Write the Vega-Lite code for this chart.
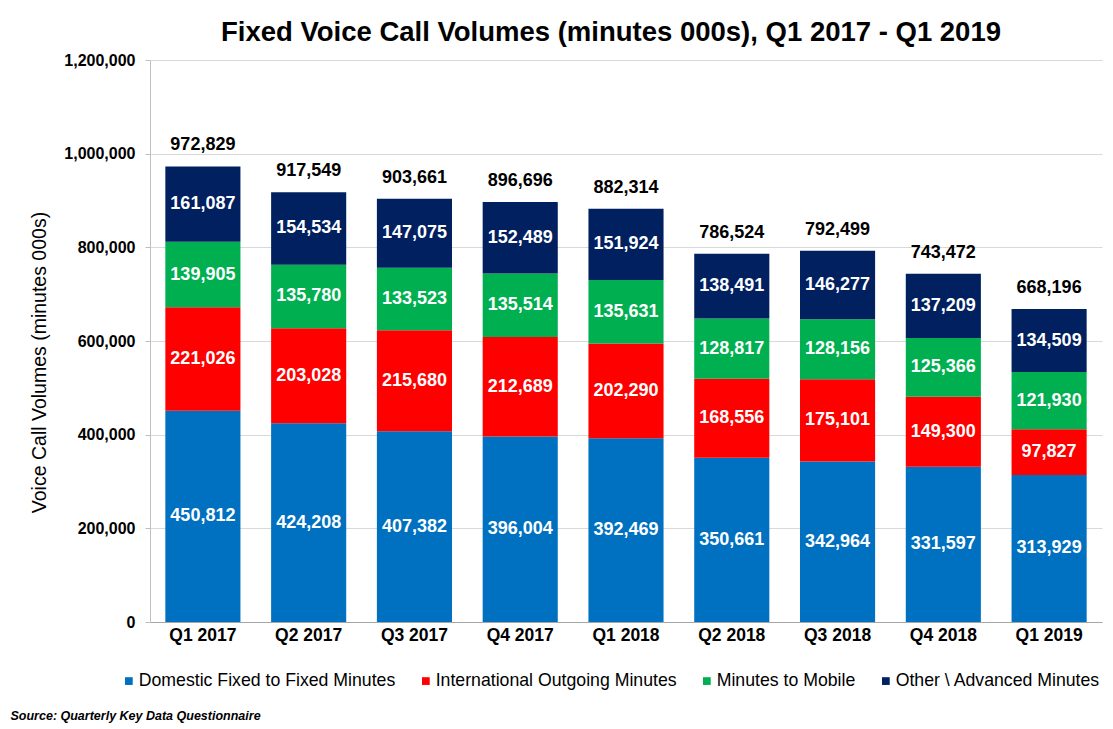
{
  "$schema": "https://vega.github.io/schema/vega-lite/v6.json",
  "autosize": "none",
  "width": 952,
  "height": 562,
  "padding": {"left": 150, "top": 60, "right": 11, "bottom": 107},
  "background": "white",
  "title": {
    "text": "Fixed Voice Call Volumes (minutes 000s), Q1 2017 - Q1 2019",
    "font": "Liberation Sans",
    "fontSize": 27.5,
    "fontWeight": "bold",
    "color": "#000000",
    "anchor": "middle",
    "dx": -15,
    "offset": 6
  },
  "datasets": {
    "segments": [
      {"quarter": "Q1 2017", "category": "Domestic Fixed to Fixed Minutes", "order": 1, "value": 450812},
      {"quarter": "Q1 2017", "category": "International Outgoing Minutes", "order": 2, "value": 221026},
      {"quarter": "Q1 2017", "category": "Minutes to Mobile", "order": 3, "value": 139905},
      {"quarter": "Q1 2017", "category": "Other \\ Advanced Minutes", "order": 4, "value": 161087},
      {"quarter": "Q2 2017", "category": "Domestic Fixed to Fixed Minutes", "order": 1, "value": 424208},
      {"quarter": "Q2 2017", "category": "International Outgoing Minutes", "order": 2, "value": 203028},
      {"quarter": "Q2 2017", "category": "Minutes to Mobile", "order": 3, "value": 135780},
      {"quarter": "Q2 2017", "category": "Other \\ Advanced Minutes", "order": 4, "value": 154534},
      {"quarter": "Q3 2017", "category": "Domestic Fixed to Fixed Minutes", "order": 1, "value": 407382},
      {"quarter": "Q3 2017", "category": "International Outgoing Minutes", "order": 2, "value": 215680},
      {"quarter": "Q3 2017", "category": "Minutes to Mobile", "order": 3, "value": 133523},
      {"quarter": "Q3 2017", "category": "Other \\ Advanced Minutes", "order": 4, "value": 147075},
      {"quarter": "Q4 2017", "category": "Domestic Fixed to Fixed Minutes", "order": 1, "value": 396004},
      {"quarter": "Q4 2017", "category": "International Outgoing Minutes", "order": 2, "value": 212689},
      {"quarter": "Q4 2017", "category": "Minutes to Mobile", "order": 3, "value": 135514},
      {"quarter": "Q4 2017", "category": "Other \\ Advanced Minutes", "order": 4, "value": 152489},
      {"quarter": "Q1 2018", "category": "Domestic Fixed to Fixed Minutes", "order": 1, "value": 392469},
      {"quarter": "Q1 2018", "category": "International Outgoing Minutes", "order": 2, "value": 202290},
      {"quarter": "Q1 2018", "category": "Minutes to Mobile", "order": 3, "value": 135631},
      {"quarter": "Q1 2018", "category": "Other \\ Advanced Minutes", "order": 4, "value": 151924},
      {"quarter": "Q2 2018", "category": "Domestic Fixed to Fixed Minutes", "order": 1, "value": 350661},
      {"quarter": "Q2 2018", "category": "International Outgoing Minutes", "order": 2, "value": 168556},
      {"quarter": "Q2 2018", "category": "Minutes to Mobile", "order": 3, "value": 128817},
      {"quarter": "Q2 2018", "category": "Other \\ Advanced Minutes", "order": 4, "value": 138491},
      {"quarter": "Q3 2018", "category": "Domestic Fixed to Fixed Minutes", "order": 1, "value": 342964},
      {"quarter": "Q3 2018", "category": "International Outgoing Minutes", "order": 2, "value": 175101},
      {"quarter": "Q3 2018", "category": "Minutes to Mobile", "order": 3, "value": 128156},
      {"quarter": "Q3 2018", "category": "Other \\ Advanced Minutes", "order": 4, "value": 146277},
      {"quarter": "Q4 2018", "category": "Domestic Fixed to Fixed Minutes", "order": 1, "value": 331597},
      {"quarter": "Q4 2018", "category": "International Outgoing Minutes", "order": 2, "value": 149300},
      {"quarter": "Q4 2018", "category": "Minutes to Mobile", "order": 3, "value": 125366},
      {"quarter": "Q4 2018", "category": "Other \\ Advanced Minutes", "order": 4, "value": 137209},
      {"quarter": "Q1 2019", "category": "Domestic Fixed to Fixed Minutes", "order": 1, "value": 313929},
      {"quarter": "Q1 2019", "category": "International Outgoing Minutes", "order": 2, "value": 97827},
      {"quarter": "Q1 2019", "category": "Minutes to Mobile", "order": 3, "value": 121930},
      {"quarter": "Q1 2019", "category": "Other \\ Advanced Minutes", "order": 4, "value": 134509}
    ],
    "totals": [
      {"quarter": "Q1 2017", "total": 972829},
      {"quarter": "Q2 2017", "total": 917549},
      {"quarter": "Q3 2017", "total": 903661},
      {"quarter": "Q4 2017", "total": 896696},
      {"quarter": "Q1 2018", "total": 882314},
      {"quarter": "Q2 2018", "total": 786524},
      {"quarter": "Q3 2018", "total": 792499},
      {"quarter": "Q4 2018", "total": 743472},
      {"quarter": "Q1 2019", "total": 668196}
    ]
  },
  "data": {"name": "segments"},
  "encoding": {
    "x": {
      "field": "quarter",
      "type": "nominal",
      "sort": ["Q1 2017", "Q2 2017", "Q3 2017", "Q4 2017", "Q1 2018", "Q2 2018", "Q3 2018", "Q4 2018", "Q1 2019"],
      "scale": {"paddingInner": 0.29, "paddingOuter": 0.145},
      "axis": {
        "title": "Source:  Quarterly Key Data Questionnaire",
        "titleFont": "Liberation Sans",
        "titleFontSize": 12.5,
        "titleFontWeight": "bold",
        "titleFontStyle": "italic",
        "titleColor": "#000000",
        "titleAnchor": "start",
        "titleAlign": "left",
        "titleBaseline": "middle",
        "titleX": -140,
        "titleY": 93,
        "labelAngle": 0,
        "labelFont": "Liberation Sans",
        "labelFontSize": 17.5,
        "labelFontWeight": "bold",
        "labelColor": "#000000",
        "labelPadding": 4,
        "ticks": false,
        "domainColor": "#a6a6a6",
        "grid": false
      }
    }
  },
  "layer": [
    {
      "mark": {"type": "bar"},
      "encoding": {
        "y": {
          "field": "value",
          "type": "quantitative",
          "stack": "zero",
          "scale": {"domain": [0, 1200000], "nice": false},
          "axis": {
            "title": "Voice Call Volumes (minutes 000s)",
            "titleFont": "Liberation Sans",
            "titleFontSize": 19.5,
            "titleFontWeight": "normal",
            "titleColor": "#000000",
            "titlePadding": 14,
            "titleY": 302,
            "values": [0, 200000, 400000, 600000, 800000, 1000000, 1200000],
            "format": ",d",
            "labelFont": "Liberation Sans",
            "labelFontSize": 16,
            "labelFontWeight": "bold",
            "labelColor": "#000000",
            "labelPadding": 10,
            "tickSize": 5,
            "tickColor": "#bfbfbf",
            "domainColor": "#bfbfbf",
            "gridColor": "#d9d9d9",
            "grid": true
          }
        },
        "color": {
          "field": "category",
          "type": "nominal",
          "scale": {
            "domain": ["Domestic Fixed to Fixed Minutes", "International Outgoing Minutes", "Minutes to Mobile", "Other \\ Advanced Minutes"],
            "range": ["#0070C0", "#FF0000", "#00B050", "#002060"]
          },
          "legend": {
            "orient": "none",
            "direction": "horizontal",
            "legendX": -30,
            "legendY": 612,
            "title": null,
            "symbolType": "square",
            "symbolSize": 60,
            "symbolStrokeWidth": 0,
            "labelFont": "Liberation Sans",
            "labelFontSize": 17.7,
            "labelLimit": 0,
            "labelColor": "#000000",
            "labelOffset": 1,
            "columnPadding": 21
          }
        },
        "order": {"field": "order", "type": "quantitative"}
      }
    },
    {
      "transform": [
        {"stack": "value", "groupby": ["quarter"], "sort": [{"field": "order"}], "as": ["y0", "y1"]},
        {"calculate": "(datum.y0 + datum.y1) / 2", "as": "ymid"}
      ],
      "mark": {"type": "text", "font": "Liberation Sans", "fontSize": 18, "fontWeight": "bold", "color": "#ffffff", "baseline": "middle"},
      "encoding": {
        "y": {"field": "ymid", "type": "quantitative"},
        "text": {"field": "value", "type": "quantitative", "format": ",d"}
      }
    },
    {
      "data": {"name": "totals"},
      "mark": {"type": "text", "font": "Liberation Sans", "fontSize": 18, "fontWeight": "bold", "color": "#000000", "baseline": "middle", "dy": -21},
      "encoding": {
        "y": {"field": "total", "type": "quantitative"},
        "text": {"field": "total", "type": "quantitative", "format": ",d"}
      }
    }
  ],
  "config": {
    "view": {"stroke": null},
    "font": "Liberation Sans"
  }
}
